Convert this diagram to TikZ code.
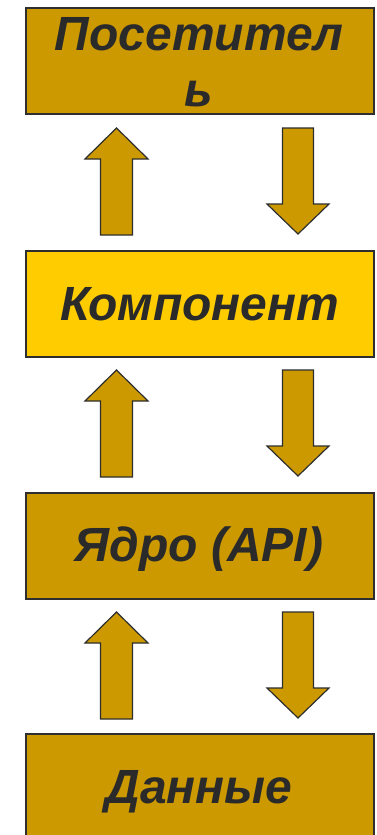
\documentclass[tikz,border=0pt]{standalone}
\usepackage{fontspec}
\setmainfont{Liberation Sans}
\definecolor{gold}{HTML}{CC9900}
\definecolor{yell}{HTML}{FFCC00}
\definecolor{edge}{HTML}{2E2E2E}
\definecolor{ink}{HTML}{2A2A2A}
\tikzset{
  box/.style={draw=edge, line width=1.5pt, fill=gold, rectangle, minimum width=348pt, minimum height=106pt, inner sep=0pt, anchor=north west},
  lbl/.style={text=ink, font=\fontsize{48}{56}\selectfont\bfseries\itshape, anchor=base, inner sep=0pt},
  arrst/.style={draw=edge, line width=1.2pt, fill=gold, line join=miter},
  uparr/.pic={\path[arrst] (0,0) -- (31.5,31) -- (16,31) -- (16,107) -- (-16,107) -- (-16,31) -- (-31.5,31) -- cycle;},
  downarr/.pic={\path[arrst] (-15.5,0) -- (15.5,0) -- (15.5,76) -- (31,76) -- (0,106) -- (-31,76) -- (-15.5,76) -- cycle;}
}
\begin{document}
\begin{tikzpicture}[x=1pt, y=-1pt]
\clip (0,0) rectangle (376,835);
\fill[white] (0,0) rectangle (376,835);
% boxes
\node[box] (b1) at (25,7) {};
\node[box, fill=yell] (b2) at (25,250) {};
\node[box] (b3) at (25,492) {};
\node[box, minimum height=130pt] (b4) at (25,733) {};
% labels
\node[lbl] (t1a) at (199,50) {Посетител};
\node[lbl] (t1b) at (199,106) {ь};
\node[lbl] (t2) at (200,320) {Компонент};
\node[lbl] (t3) at (199,561) {Ядро (API)};
\node[lbl] (t4) at (199,803) {Данные};
% arrows
\pic (u1) at (116.5,128) {uparr};
\pic (d1) at (298,128) {downarr};
\pic (u2) at (116.5,370) {uparr};
\pic (d2) at (298,370) {downarr};
\pic (u3) at (116.5,612) {uparr};
\pic (d3) at (298,612) {downarr};
\end{tikzpicture}
\end{document}
